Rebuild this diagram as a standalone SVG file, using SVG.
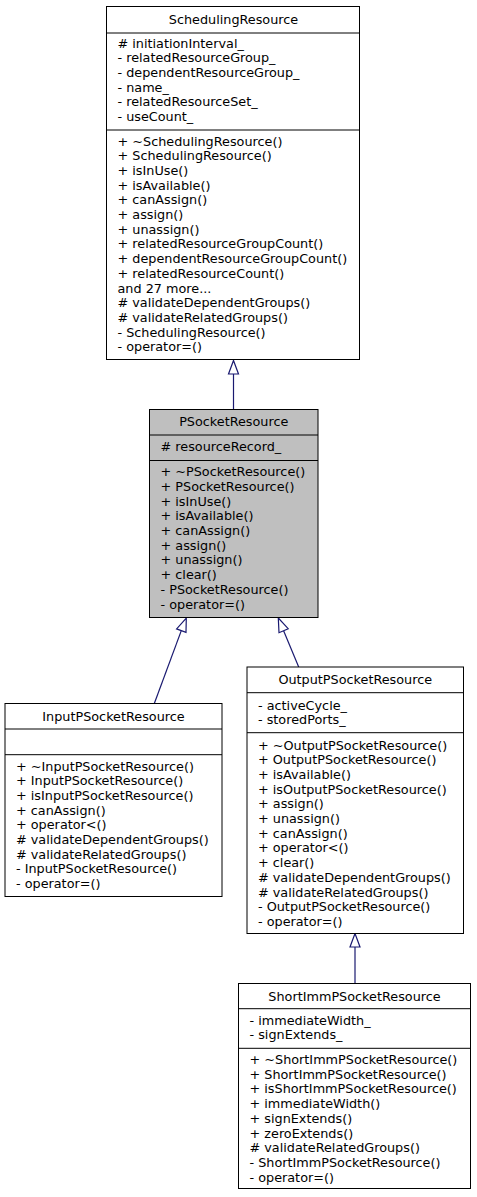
<svg xmlns="http://www.w3.org/2000/svg" width="477" height="1197" viewBox="0 0 477 1197">
<defs>
<style>
text{font-family:"DejaVu Sans","Liberation Sans",sans-serif;font-size:12.8px;fill:#000}
.t{text-anchor:middle}
.box{fill:#fff;stroke:#000;stroke-width:1}
.sel{fill:#bfbfbf;stroke:#000;stroke-width:1}
.sep{stroke:#000;stroke-width:1}
.edge{stroke:#191970;stroke-width:1.2;fill:none}
.head{stroke:#191970;stroke-width:1.2;fill:#fff}
</style>
</defs>
<rect width="477" height="1197" fill="#fff"/>
<g id="connectors">
<line class="edge" x1="233.5" y1="374" x2="233.5" y2="409.5"/>
<polygon class="head" points="233.5,360.5 228.5,374 238.5,374"/>
<line class="edge" x1="181.3" y1="630.6" x2="154.3" y2="703.5"/>
<polygon class="head" points="186.3,618 186,632.3 176.6,628.9"/>
<line class="edge" x1="283.6" y1="630.7" x2="298.7" y2="667"/>
<polygon class="head" points="278.3,618 288.2,628.7 279,632.7"/>
<line class="edge" x1="355" y1="947" x2="355" y2="983.5"/>
<polygon class="head" points="355,933.5 350,947 360,947"/>
</g>
<g id="SchedulingResource">
<rect class="box" x="106.5" y="6.5" width="253" height="353"/>
<line class="sep" x1="106.5" y1="33" x2="359.5" y2="33"/>
<line class="sep" x1="106.5" y1="130" x2="359.5" y2="130"/>
<text class="t" x="233.5" y="24">SchedulingResource</text>
<text x="117.5" y="47.5"><tspan x="117.5">#  initiationInterval_</tspan><tspan x="117.5" dy="14.7">- relatedResourceGroup_</tspan><tspan x="117.5" dy="14.7">- dependentResourceGroup_</tspan><tspan x="117.5" dy="14.7">- name_</tspan><tspan x="117.5" dy="14.7">- relatedResourceSet_</tspan><tspan x="117.5" dy="14.7">- useCount_</tspan></text>
<text x="117.5" y="145.5"><tspan x="117.5">+ ~SchedulingResource()</tspan><tspan x="117.5" dy="14.7">+ SchedulingResource()</tspan><tspan x="117.5" dy="14.7">+ isInUse()</tspan><tspan x="117.5" dy="14.7">+ isAvailable()</tspan><tspan x="117.5" dy="14.7">+ canAssign()</tspan><tspan x="117.5" dy="14.7">+ assign()</tspan><tspan x="117.5" dy="14.7">+ unassign()</tspan><tspan x="117.5" dy="14.7">+ relatedResourceGroupCount()</tspan><tspan x="117.5" dy="14.7">+ dependentResourceGroupCount()</tspan><tspan x="117.5" dy="14.7">+ relatedResourceCount()</tspan><tspan x="117.5" dy="14.7">and 27 more...</tspan><tspan x="117.5" dy="14.7"># validateDependentGroups()</tspan><tspan x="117.5" dy="14.7"># validateRelatedGroups()</tspan><tspan x="117.5" dy="14.7">- SchedulingResource()</tspan><tspan x="117.5" dy="14.7">- operator=()</tspan></text>
</g>
<g id="PSocketResource">
<rect class="sel" x="149.5" y="409.5" width="168.5" height="208"/>
<line class="sep" x1="149.5" y1="435" x2="318" y2="435"/>
<line class="sep" x1="149.5" y1="460.5" x2="318" y2="460.5"/>
<text class="t" x="233.75" y="426">PSocketResource</text>
<text x="160.5" y="451"># resourceRecord_</text>
<text x="160.5" y="476.2"><tspan x="160.5">+ ~PSocketResource()</tspan><tspan x="160.5" dy="14.7">+ PSocketResource()</tspan><tspan x="160.5" dy="14.7">+ isInUse()</tspan><tspan x="160.5" dy="14.7">+ isAvailable()</tspan><tspan x="160.5" dy="14.7">+ canAssign()</tspan><tspan x="160.5" dy="14.7">+ assign()</tspan><tspan x="160.5" dy="14.7">+ unassign()</tspan><tspan x="160.5" dy="14.7">+ clear()</tspan><tspan x="160.5" dy="14.7">- PSocketResource()</tspan><tspan x="160.5" dy="14.7">- operator=()</tspan></text>
</g>
<g id="InputPSocketResource">
<rect class="box" x="5" y="703.5" width="217" height="193"/>
<line class="sep" x1="5" y1="729" x2="222" y2="729"/>
<line class="sep" x1="5" y1="754.7" x2="222" y2="754.7"/>
<text class="t" x="113.5" y="720.5">InputPSocketResource</text>
<text x="16" y="770.5"><tspan x="16">+ ~InputPSocketResource()</tspan><tspan x="16" dy="14.7">+ InputPSocketResource()</tspan><tspan x="16" dy="14.7">+ isInputPSocketResource()</tspan><tspan x="16" dy="14.7">+ canAssign()</tspan><tspan x="16" dy="14.7">+ operator&lt;()</tspan><tspan x="16" dy="14.7"># validateDependentGroups()</tspan><tspan x="16" dy="14.7"># validateRelatedGroups()</tspan><tspan x="16" dy="14.7">- InputPSocketResource()</tspan><tspan x="16" dy="14.7">- operator=()</tspan></text>
</g>
<g id="OutputPSocketResource">
<rect class="box" x="247" y="667" width="216.5" height="266.5"/>
<line class="sep" x1="247" y1="692.7" x2="463.5" y2="692.7"/>
<line class="sep" x1="247" y1="732.7" x2="463.5" y2="732.7"/>
<text class="t" x="355.25" y="683.5">OutputPSocketResource</text>
<text x="258" y="709.5"><tspan x="258">- activeCycle_</tspan><tspan x="258" dy="14.2">- storedPorts_</tspan></text>
<text x="258" y="749.5"><tspan x="258">+ ~OutputPSocketResource()</tspan><tspan x="258" dy="14.7">+ OutputPSocketResource()</tspan><tspan x="258" dy="14.7">+ isAvailable()</tspan><tspan x="258" dy="14.7">+ isOutputPSocketResource()</tspan><tspan x="258" dy="14.7">+ assign()</tspan><tspan x="258" dy="14.7">+ unassign()</tspan><tspan x="258" dy="14.7">+ canAssign()</tspan><tspan x="258" dy="14.7">+ operator&lt;()</tspan><tspan x="258" dy="14.7">+ clear()</tspan><tspan x="258" dy="14.7"># validateDependentGroups()</tspan><tspan x="258" dy="14.7"># validateRelatedGroups()</tspan><tspan x="258" dy="14.7">- OutputPSocketResource()</tspan><tspan x="258" dy="14.7">- operator=()</tspan></text>
</g>
<g id="ShortImmPSocketResource">
<rect class="box" x="238.5" y="983.5" width="232" height="205"/>
<line class="sep" x1="238.5" y1="1008.7" x2="470.5" y2="1008.7"/>
<line class="sep" x1="238.5" y1="1048.3" x2="470.5" y2="1048.3"/>
<text class="t" x="354.5" y="1000.5">ShortImmPSocketResource</text>
<text x="249.5" y="1024.5"><tspan x="249.5">- immediateWidth_</tspan><tspan x="249.5" dy="14.7">- signExtends_</tspan></text>
<text x="249.5" y="1064"><tspan x="249.5">+ ~ShortImmPSocketResource()</tspan><tspan x="249.5" dy="14.7">+ ShortImmPSocketResource()</tspan><tspan x="249.5" dy="14.7">+ isShortImmPSocketResource()</tspan><tspan x="249.5" dy="14.7">+ immediateWidth()</tspan><tspan x="249.5" dy="14.7">+ signExtends()</tspan><tspan x="249.5" dy="14.7">+ zeroExtends()</tspan><tspan x="249.5" dy="14.7"># validateRelatedGroups()</tspan><tspan x="249.5" dy="14.7">- ShortImmPSocketResource()</tspan><tspan x="249.5" dy="14.7">- operator=()</tspan></text>
</g>
</svg>
